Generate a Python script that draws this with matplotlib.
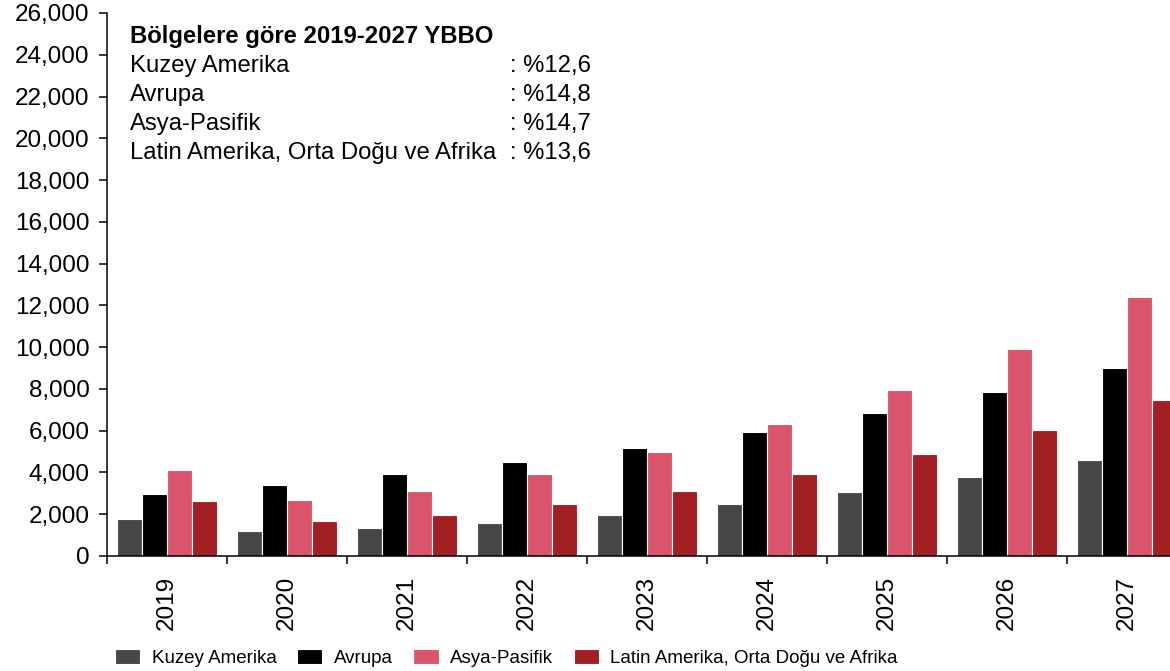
#!/usr/bin/env python3
import numpy as np
import matplotlib
matplotlib.use("Agg")
import matplotlib.pyplot as plt
from matplotlib.ticker import FuncFormatter, FixedLocator

plt.rcParams['font.family'] = ['Liberation Sans', 'DejaVu Sans']

#======================================================================#
## data
years = ['2019', '2020', '2021', '2022', '2023', '2024', '2025', '2026', '2027']
kuzey_amerika = [1760, 1210, 1360, 1570, 1960, 2470, 3070, 3770, 4600]
avrupa        = [2960, 3390, 3910, 4490, 5170, 5930, 6830, 7850, 9000]
asya_pasifik  = [4100, 2670, 3100, 3910, 4980, 6310, 7940, 9930, 12390]
latin_amerika = [2650, 1660, 1960, 2470, 3120, 3910, 4890, 6040, 7470]

series_names = ['Kuzey Amerika', 'Avrupa', 'Asya-Pasifik',
                'Latin Amerika, Orta Doğu ve Afrika']
cagr_values = ['%12,6', '%14,8', '%14,7', '%13,6']
box_title = 'Bölgelere göre 2019-2027 YBBO'

colors = ['#474747', '#000000', '#dc546b', '#a21f22']
#======================================================================#
W, H = 1170, 671
fig = plt.figure(figsize=(W / 100, H / 100), dpi=100)
# axes runs past the right edge of the figure, the last group gets cut
ax = fig.add_axes([107 / W, (H - 556) / H, 1080 / W, 543 / H])

x = np.arange(len(years))
step = 0.208
bw = 0.205
data = [kuzey_amerika, avrupa, asya_pasifik, latin_amerika]
for i, (vals, name, col) in enumerate(zip(data, series_names, colors)):
    ax.bar(x + (i - 1.5) * step, vals, width=bw, color=col,
           edgecolor='white', linewidth=0.8, label=name)

ax.set_xlim(-0.5, len(years) - 0.5)
ax.set_ylim(0, 26000)
ax.set_yticks(np.arange(0, 26001, 2000))
ax.yaxis.set_major_formatter(FuncFormatter(lambda v, p: f'{int(v):,}'))

ax.set_xticks(x)
ax.set_xticklabels(years, rotation=90)
ax.xaxis.set_minor_locator(FixedLocator(np.arange(-0.5, len(years), 1.0)))
ax.tick_params(axis='x', which='major', length=0, pad=14, labelsize=17.5)
ax.tick_params(axis='x', which='minor', length=6, width=1.1, direction='out')
ax.tick_params(axis='y', length=6, width=1.1, direction='out', pad=6.5,
               labelsize=17.5)

for s in ['top', 'right']:
    ax.spines[s].set_visible(False)
for s in ['left', 'bottom']:
    ax.spines[s].set_linewidth(1.1)

# CAGR text box
fs = 17.2
fig.text(130 / W, 1 - 36 / H, box_title, fontsize=fs, fontweight='bold',
         va='center', ha='left')
for k, (name, val) in enumerate(zip(series_names, cagr_values)):
    yy = 1 - (66 + 29 * k) / H
    fig.text(130 / W, yy, name, fontsize=fs, va='center', ha='left')
    fig.text(510 / W, yy, ': ' + val, fontsize=fs, va='center', ha='left')

fig.legend(loc='center left', bbox_to_anchor=(115 / W, 1 - 658 / H),
           ncol=4, frameon=False, fontsize=13.5, handlelength=1.35,
           handleheight=0.85, handletextpad=0.6, columnspacing=1.1,
           borderpad=0, borderaxespad=0)

plt.savefig('out.png', dpi=100)
